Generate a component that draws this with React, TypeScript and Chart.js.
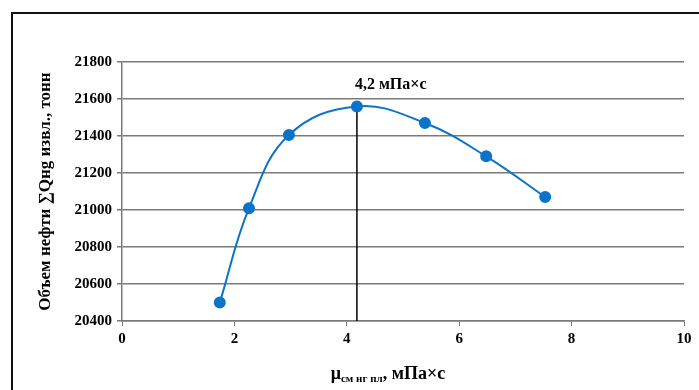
import React, { useEffect, useRef } from "react";
import { Chart, registerables } from "chart.js";

Chart.register(...registerables);

// ---- data ----
const viscosity: number[] = [1.74, 2.26, 2.97, 4.18, 5.39, 6.48, 7.53];
const oilVolume: number[] = [20500, 21010, 21405, 21560, 21470, 21290, 21070];
const xTickValues: number[] = [0, 2, 4, 6, 8, 10];
const yTickValues: number[] = [20400, 20600, 20800, 21000, 21200, 21400, 21600, 21800];
const peakLabel = "4,2 мПа×с";
const yTitle = "Объем нефти ∑Qнg извл., тонн";
const xTitleMain = "μ";
const xTitleSub = "см нг пл";
const xTitleRest = ", мПа×с";

const SERIF = "'Liberation Serif', 'Times New Roman', serif";
const BLUE = "#0B74C8";
const GRID = "#7a7a7a";

const W = 686;
const H = 376;

function peakIndex(): number {
  let idx = 0;
  oilVolume.forEach((v, i) => {
    if (v > oilVolume[idx]) idx = i;
  });
  return idx;
}

const overlayPlugin = {
  id: "overlay",
  beforeDatasetsDraw(chart: any) {
    const { ctx, scales, chartArea } = chart;
    const idx = peakIndex();
    const px = scales.x.getPixelForValue(viscosity[idx]);
    const py = scales.y.getPixelForValue(oilVolume[idx]);
    ctx.save();
    ctx.strokeStyle = "#000";
    ctx.lineWidth = 1.5;
    ctx.beginPath();
    ctx.moveTo(px, py);
    ctx.lineTo(px, chartArea.bottom);
    ctx.stroke();
    ctx.restore();
  },
  afterDraw(chart: any) {
    const { ctx, scales, chartArea } = chart;
    const idx = peakIndex();
    const px = scales.x.getPixelForValue(viscosity[idx]);
    ctx.save();
    ctx.fillStyle = "#000";
    ctx.font = `bold 16px ${SERIF}`;
    ctx.textBaseline = "middle";
    ctx.textAlign = "left";
    ctx.fillText(peakLabel, px - 2, 71);

    // x axis title with subscript
    const mainFont = `bold 18px ${SERIF}`;
    const subFont = `bold 11px ${SERIF}`;
    ctx.font = mainFont;
    const w1 = ctx.measureText(xTitleMain).width;
    const w3 = ctx.measureText(xTitleRest).width;
    ctx.font = subFont;
    const w2 = ctx.measureText(xTitleSub).width;
    const total = w1 + w2 + w3;
    const cx = (chartArea.left + chartArea.right) / 2 - 15;
    let x = cx - total / 2;
    const y = 365;
    ctx.textBaseline = "alphabetic";
    ctx.font = mainFont;
    ctx.fillText(xTitleMain, x, y);
    x += w1;
    ctx.font = subFont;
    ctx.fillText(xTitleSub, x, y + 3);
    x += w2;
    ctx.font = mainFont;
    ctx.fillText(xTitleRest, x, y);
    ctx.restore();
  },
};

export default function App() {
  const ref = useRef<HTMLCanvasElement | null>(null);

  useEffect(() => {
    if (!ref.current) return;
    const chart = new Chart(ref.current, {
      type: "line",
      data: {
        datasets: [
          {
            data: viscosity.map((x, i) => ({ x, y: oilVolume[i] })),
            borderColor: BLUE,
            backgroundColor: BLUE,
            borderWidth: 2,
            pointRadius: 5,
            pointHoverRadius: 5,
            pointBackgroundColor: BLUE,
            pointBorderColor: BLUE,
            tension: 0.4,
            fill: false,
          },
        ],
      },
      options: {
        responsive: false,
        animation: false,
        events: [],
        layout: { padding: { top: 48, right: 15, left: 0, bottom: 0 } },
        plugins: {
          legend: { display: false },
          tooltip: { enabled: false },
        },
        scales: {
          x: {
            type: "linear",
            min: 0,
            max: 10,
            afterBuildTicks: (s: any) => {
              s.ticks = xTickValues.map((v) => ({ value: v }));
            },
            afterFit: (s: any) => {
              s.height = 69;
            },
            grid: {
              drawOnChartArea: false,
              drawTicks: true,
              tickLength: 5,
              color: GRID,
              lineWidth: 1,
            },
            border: { color: GRID, width: 1.5 },
            ticks: {
              color: "#000",
              padding: 4,
              maxRotation: 0,
              font: { family: SERIF, size: 15, weight: "bold" },
            },
          },
          y: {
            type: "linear",
            min: 20400,
            max: 21800,
            afterBuildTicks: (s: any) => {
              s.ticks = yTickValues.map((v) => ({ value: v }));
            },
            afterFit: (s: any) => {
              s.width = 109;
            },
            grid: {
              drawOnChartArea: true,
              drawTicks: true,
              tickLength: 5,
              color: GRID,
              lineWidth: 1.5,
            },
            border: { color: GRID, width: 1.5 },
            ticks: {
              color: "#000",
              padding: 5,
              font: { family: SERIF, size: 15, weight: "bold" },
              callback: (v: any) => String(v),
            },
            title: {
              display: true,
              text: yTitle,
              color: "#000",
              align: "center",
              padding: { top: 22, bottom: 0 },
              font: { family: SERIF, size: 17, weight: "bold" },
            },
          },
        },
      },
      plugins: [overlayPlugin],
    } as any);
    return () => chart.destroy();
  }, []);

  return (
    <div
      style={{
        position: "fixed",
        left: 11,
        top: 12,
        width: W + 20,
        height: H + 20,
        borderLeft: "2px solid #111",
        borderTop: "2px solid #111",
        background: "#fff",
      }}
    >
      <canvas ref={ref} width={W} height={H} style={{ display: "block" }} />
    </div>
  );
}
